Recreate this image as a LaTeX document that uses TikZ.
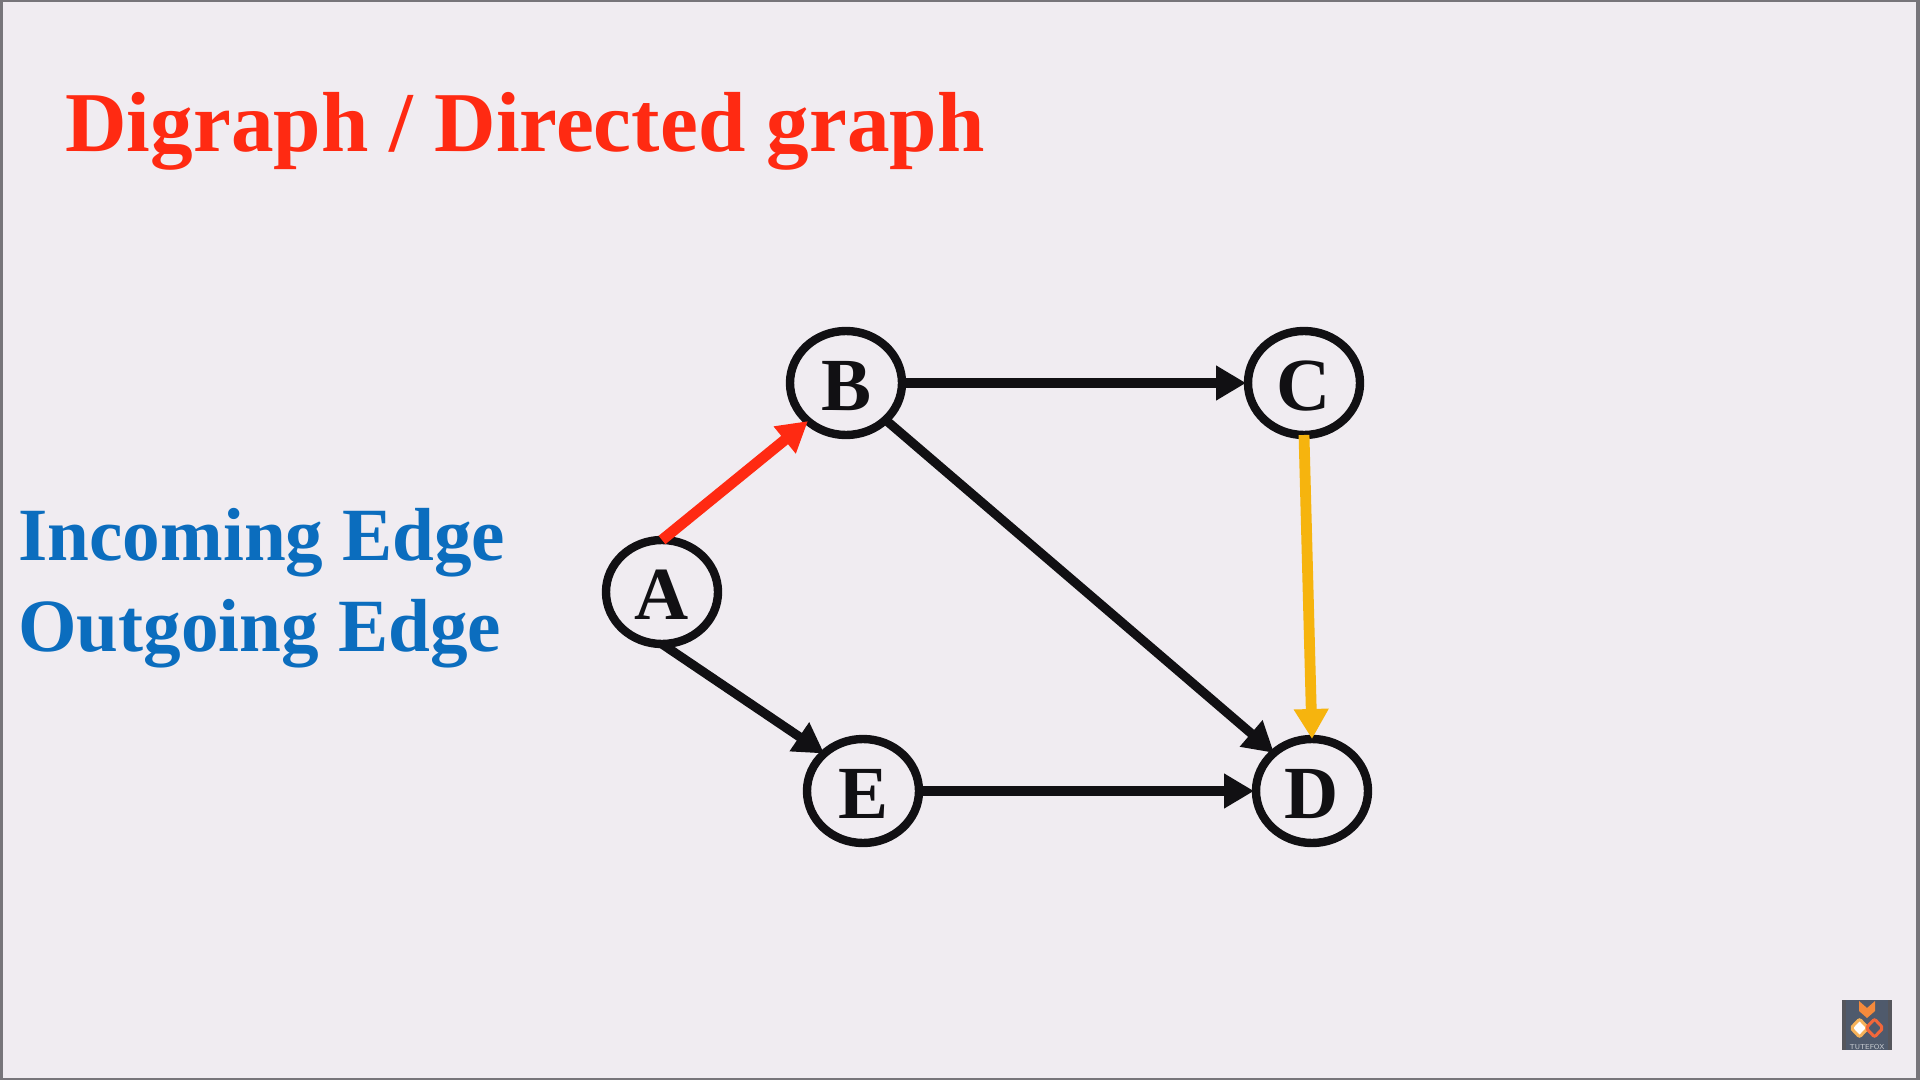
\documentclass[tikz,border=0pt]{standalone}
\usepackage{fontspec}
\setmainfont{Liberation Serif}
\usetikzlibrary{shapes.geometric,arrows.meta}
\definecolor{bgc}{HTML}{F0ECF1}
\definecolor{framec}{HTML}{77757A}
\definecolor{inkc}{HTML}{111013}
\definecolor{redc}{HTML}{FF2A12}
\definecolor{bluec}{HTML}{0B6DBE}
\definecolor{yelc}{HTML}{F6B40E}
\definecolor{logoc}{HTML}{4F5A6C}
\definecolor{logoside}{HTML}{55565C}
\definecolor{logoa}{HTML}{F58A3C}
\definecolor{logob}{HTML}{F6B25A}
\definecolor{logoe}{HTML}{F2673A}
\tikzset{
  vertex/.style={draw=inkc,line width=4.2pt,ellipse,inner sep=0pt,outer sep=0pt,
    minimum width=56pt,minimum height=52pt,text=inkc,text height=27.8pt,text depth=0pt,
    font=\fontsize{37.5}{37.5}\selectfont\bfseries},
  edgeline/.style={line width=4.6pt,draw=inkc,
    -{Triangle[length=15pt,width=16.5pt,fill=inkc]}},
  levelline/.style={edgeline,shorten >=1pt},
  redline/.style={edgeline,draw=redc,line width=5.4pt,-{Triangle[length=15pt,width=16.5pt,fill=redc]}},
  yelline/.style={edgeline,draw=yelc,line width=5.4pt,-{Triangle[length=15pt,width=16.5pt,fill=yelc]}},
  titletext/.style={anchor=base west,inner sep=0pt,text=redc,font=\fontsize{42.6}{42.6}\selectfont\bfseries},
  sidetext/.style={anchor=base west,inner sep=0pt,text=bluec,font=\fontsize{37.6}{37.6}\selectfont\bfseries}
}
\begin{document}
\begin{tikzpicture}[x=0.5pt,y=-0.5pt]
\useasboundingbox (0,0) rectangle (1920,1080);
\fill[framec] (0,0) rectangle (1920,1080);
\fill[bgc] (3,2) rectangle (1916,1078);
\node[titletext] (title) at (65,152) {Digraph / Directed graph};
\node[sidetext] (incoming) at (18,560) {Incoming Edge};
\node[sidetext] (outgoing) at (18,651) {Outgoing Edge};
\node[vertex] (A) at (662,592) {A};
\node[vertex] (B) at (846,383) {B};
\node[vertex] (C) at (1304,383) {C};
\node[vertex] (D) at (1312,791) {D};
\node[vertex] (E) at (863,791) {E};
\draw[redline] (A.north) -- (B.225);
\draw[levelline] (B.east) -- (C.west);
\draw[edgeline] (B.317) -- (D.135);
\draw[yelline] (C.south) -- (D.north);
\draw[edgeline] (A.south) -- (E.136);
\draw[levelline] (E.east) -- (D.west);
% logo
\fill[logoside] (1842,1000) rectangle (1892,1050);
\fill[logoc] (1846,1000) rectangle (1888,1050);
\fill[logoa] (1859,1001) -- (1867,1008) -- (1875,1001) -- (1875,1011) -- (1867,1018) -- (1859,1011) -- cycle;
\draw[line width=1.5pt,draw=logob,fill=white,rounded corners=1pt] (1851,1028) -- (1859.5,1019) -- (1868,1028) -- (1859.5,1037) -- cycle;
\draw[line width=1.5pt,draw=logoe,rounded corners=1pt] (1866,1028) -- (1874.5,1019) -- (1883,1028) -- (1874.5,1037) -- cycle;
\node[inner sep=0pt,text=white!70!logoc,font=\fontsize{3.6}{3.6}\selectfont\sffamily] (logotext) at (1867,1046.5) {TUTEFOX};
\end{tikzpicture}
\end{document}
